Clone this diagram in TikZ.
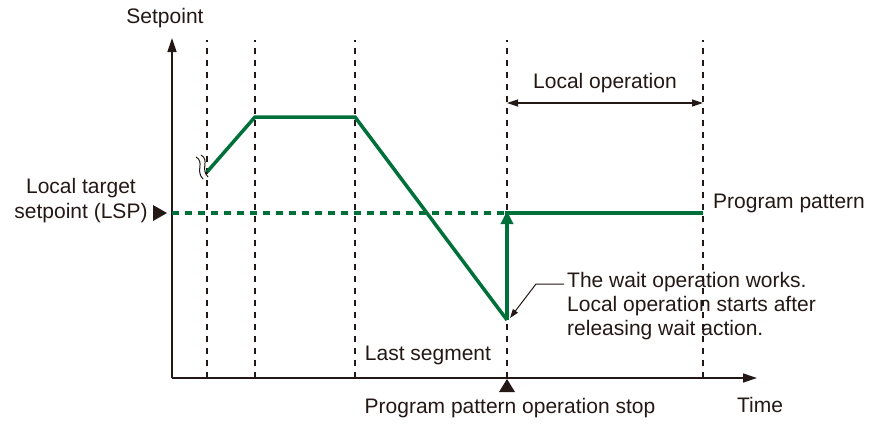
\documentclass[tikz,border=0pt]{standalone}
\usepackage{fontspec}
\setmainfont{Liberation Sans}
\usetikzlibrary{arrows.meta, positioning}

\definecolor{pgreen}{RGB}{0,112,58}
\definecolor{ink}{RGB}{35,24,21}

\begin{document}
\begin{tikzpicture}[x=1pt, y=-1pt,
    txt/.style={inner sep=0pt, text=ink, font=\fontsize{21}{24}\selectfont},
    guide/.style={draw=ink, line width=1.2pt, dash pattern=on 6pt off 6pt},
    axis/.style={draw=ink, line width=1.3pt, -{Triangle[length=14pt,width=9pt]}},
    pat/.style={draw=pgreen, line width=3.5pt},
    marker/.style={fill=ink, draw=none}]
\useasboundingbox (0,0) rectangle (872,423);

\def\yAx{378}
\def\yLsp{213}

% dashed guides
\foreach \x in {207,255,355,507,703}
  \draw[guide] (\x,\yAx) -- (\x,40);

% axes
\coordinate (O) at (172,\yAx);
\coordinate (Ytip) at (172,38);
\coordinate (Xtip) at (757,\yAx);
\draw[axis] (O) -- (Ytip);
\draw[axis] (O) -- (Xtip);

% program pattern
\coordinate (P0) at (207,172);
\coordinate (P1) at (255,117);
\coordinate (P2) at (355,117);
\coordinate (P3) at (507,320);
\coordinate (P4) at (507,\yLsp);
\coordinate (P5) at (703,\yLsp);
\draw[pat, line join=miter] (P0) -- (P1) -- (P2) -- (P3);
\draw[pat, -{Triangle[length=13pt,width=12pt]}] (P3) -- ([yshift=2pt]P4);
\draw[pat] ([xshift=-1.7pt]P4) -- (P5);
\draw[pat, dash pattern=on 7pt off 6pt] (172,\yLsp) -- (P4);

% break mark
\draw[ink, line width=1pt] (196,157) .. controls (205,162) and (195,171) .. (203,179);
\draw[ink, line width=1pt] (201,155) .. controls (210,160) and (200,169) .. (208,177);

% labels
\node[txt] (setpt) at (165,18) {Setpoint};
\node[txt] (time) at (760,405) {Time};
\node[txt, align=center] (lsp) at (81,201) {Local target\\[1pt]setpoint (LSP)};
\fill[marker] (153,205) -- (167,\yLsp) -- (153,221) -- cycle;
\node[txt, anchor=west] (pp) at (713,203) {Program pattern};
\node[txt] (lastseg) at (428,355) {Last segment};
\fill[marker] (507,379) -- (515,392) -- (499,392) -- cycle;
\node[txt] (stop) at (510,408) {Program pattern operation stop};

% local operation span
\coordinate (L0) at (507,103);
\coordinate (L1) at (703,103);
\draw[ink, line width=1.2pt, {Triangle[length=11pt,width=7pt]}-{Triangle[length=11pt,width=7pt]}] (L0) -- (L1);
\node[txt] (localop) at (605,83) {Local operation};

% wait note
\node[txt, anchor=north west, align=left] (note) at (567,272) {The wait operation works.\\Local operation starts after\\releasing wait action.};
\coordinate (lead) at (564,284);
\coordinate (bend) at (536,284);
\draw[ink, line width=1pt, -{Triangle[length=9pt,width=6pt]}] (lead) -- (bend) -- (510,318);
\end{tikzpicture}
\end{document}
